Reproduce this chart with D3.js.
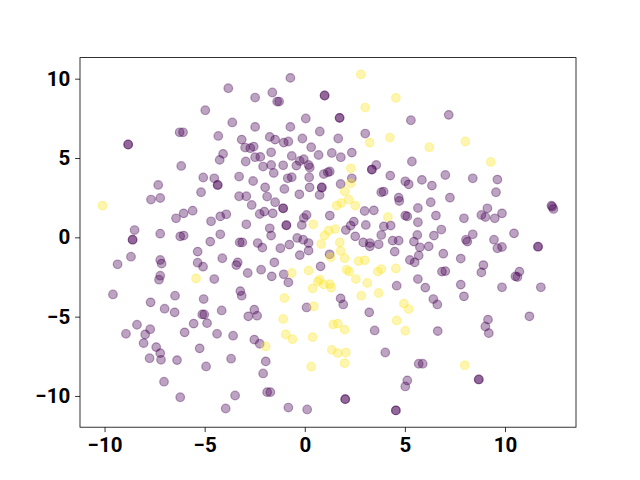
<!DOCTYPE html>
<head>
<meta charset="utf-8">
<style>
body { margin: 0; background: #fff; }
.tick text { font-family: Roboto, sans-serif; font-weight: bold; font-size: 20.5px; fill: #000; }
.domain, .tick line { stroke: #000; stroke-width: 0.8px; }
</style>
</head>
<body>
<script src="https://d3js.org/d3.v7.min.js"></script>
<script>
var purplePts = [
[-4.97,8.01],[-6.25,6.62],[-6.08,6.62],[-8.82,5.85],[-8.82,5.85],[-6.17,4.50],[-5.07,3.77],[-7.32,3.30],
[-0.72,10.05],[-3.82,9.40],[-1.62,9.13],[-2.48,8.81],[-1.38,8.56],[-1.28,8.56],[0.99,8.94],[0.99,8.94],
[-3.62,7.24],[-2.48,6.96],[-0.72,6.96],[0.05,7.49],[0.75,6.67],[-4.32,6.39],[-3.15,6.16],[-1.75,6.33],[-1.48,6.16],[-1.05,5.97],[-0.82,6.04],[-0.12,6.23],[0.32,5.68],
[-2.98,5.66],[-2.72,5.62],[-2.55,5.72],[-4.08,5.26],[-4.25,4.88],[-1.68,5.36],[-2.48,5.05],[-2.22,5.07],[-0.65,5.13],[0.69,5.19],
[-2.95,4.78],[-2.08,4.46],[-1.68,4.56],[-1.08,4.54],[-0.42,4.52],[-0.25,4.81],[-0.05,4.92],[0.19,4.56],[0.25,4.40],
[-1.55,4.06],[0.95,3.99],[1.15,4.10],[-3.28,3.83],[-4.52,3.72],[-2.58,3.55],[-0.85,3.72],[-0.65,3.79],[0.22,3.79],
[1.74,7.53],[1.74,7.53],[5.30,7.38],[7.19,7.72],[1.67,6.23],[3.02,6.54],[1.35,5.32],[1.80,5.05],[2.35,5.34],
[3.35,4.27],[3.35,4.27],[3.57,4.56],[5.35,4.78],[1.25,4.15],[2.35,3.72],[4.27,3.89],[5.02,3.53],[5.19,3.34],[5.85,3.62],[6.35,3.26],[7.02,3.93],[8.39,3.72],[9.62,3.64],
[-7.68,2.38],[-7.22,2.48],[-5.18,2.84],[-6.43,1.20],[-6.05,1.51],[-5.60,1.68],[-8.50,0.46],[-8.60,-0.15],[-8.60,-0.15],[-7.22,0.23],[-6.22,0.06],[-6.05,0.11],
[-5.35,-0.90],[-8.68,-1.22],[-9.35,-1.70],[-7.22,-1.43],[-7.15,-1.66],[-5.35,-1.60],[-5.08,-1.85],[-7.22,-2.42],[-7.28,-2.67],[-9.58,-3.60],[-6.48,-3.68],[-7.70,-4.10],[-5.05,-3.89],
[-4.35,3.30],[-4.35,3.30],[-1.98,3.15],[-1.02,3.05],[0.24,3.15],[0.85,3.14],[0.85,3.14],[0.74,2.67],[-3.28,2.59],[-2.92,2.59],[-1.88,2.57],[-1.48,2.21],[-2.65,2.04],[-1.08,1.83],[-1.08,1.83],[-0.27,2.71],
[-2.25,1.47],[-2.02,1.62],[-1.60,1.51],[-4.68,1.01],[-4.22,1.32],[-3.92,1.45],[-2.92,0.82],[-0.92,0.76],[-0.92,0.76],[-0.15,0.78],[-0.05,1.22],[0.09,1.41],
[-1.75,0.57],[-1.68,0.11],[-0.38,-0.04],[-0.08,-0.15],[0.19,-0.36],[-4.22,0.19],[-4.72,-0.27],[-3.25,-0.32],[-3.12,-0.32],[-2.35,-0.36],[-2.12,-0.65],[-1.22,-0.69],[-0.77,-0.46],[-0.25,-1.12],[0.19,-0.84],
[-4.12,-1.32],[-3.35,-1.58],[-3.42,-1.75],[-1.52,-1.58],[0.79,-1.83],[-2.85,-2.25],[-2.18,-2.04],[-1.65,-2.46],[-1.05,-2.33],[-0.82,-2.84],[-4.52,-2.63],[-3.22,-3.39],[-3.15,-3.68],
[1.79,3.36],[3.82,2.84],[3.94,2.88],[4.69,2.50],[4.72,2.29],[7.25,2.50],[2.99,1.66],[3.45,1.70],[5.02,1.37],[5.12,1.32],[5.65,1.85],[6.29,2.21],[6.55,1.37],[1.25,1.37],
[2.45,0.99],[2.29,0.74],[2.05,0.46],[3.05,0.78],[3.95,0.69],[4.29,0.74],[5.65,0.95],[6.82,0.49],[6.45,0.11],[2.52,0.06],[3.82,0.15],[5.62,0.15],
[2.92,-0.32],[3.25,-0.36],[3.25,-0.57],[3.69,-0.44],[4.39,-0.21],[4.69,-0.21],[5.45,-0.27],[6.19,-0.57],[1.24,-1.07],[4.49,-0.90],[5.75,-0.63],[5.69,-1.15],[6.92,-1.03],
[5.25,-1.43],[5.49,-1.58],[6.85,-2.16],[7.02,-2.13],[5.65,-2.63],[4.59,-3.05],[6.02,-3.17],[1.79,-3.85],[1.92,-4.23],[6.42,-3.89],[6.62,-4.23],
[9.55,2.84],[12.32,2.0],[12.42,1.79],[12.36,1.93],[9.12,1.83],[8.82,1.41],[9.02,1.28],[9.49,1.20],[9.85,1.51],[7.95,1.20],[10.45,0.25],[8.39,0.19],[8.05,-0.15],[8.12,-0.27],[9.45,-0.15],[9.62,-0.69],[9.85,-0.61],[11.65,-0.59],[11.65,-0.59],
[7.79,-1.34],[8.92,-1.75],[8.82,-2.21],[10.72,-2.16],[10.52,-2.46],[10.62,-2.50],[7.79,-2.98],[7.95,-3.72],[9.85,-3.15],[11.79,-3.15],
[-7.0,-4.50],[-6.5,-4.73],[-5.12,-4.86],[-5.02,-4.86],[-8.38,-5.51],[-8.93,-6.08],[-7.97,-6.12],[-7.72,-5.79],[-8.05,-6.67],[-5.55,-5.44],[-6.0,-5.99],[-4.88,-5.41],[-7.42,-6.92],[-7.22,-7.30],[-7.75,-7.62],[-7.18,-7.72],[-6.38,-7.74],[-5.25,-7.0],[-4.93,-8.14],[-7.03,-9.10],[-6.22,-10.08],
[-4.15,-4.61],[-2.82,-4.98],[-2.52,-4.56],[-2.38,-4.94],[0.09,-4.42],[-4.38,-6.08],[-3.58,-6.20],[-2.52,-6.45],[-2.25,-6.71],[-3.68,-7.65],[-1.95,-7.82],[-2.08,-8.58],[-1.88,-9.76],[-1.72,-9.76],[-3.48,-9.97],[-3.95,-10.79],[-0.82,-10.73],[0.12,-10.85],
[3.22,-4.73],[3.49,-5.87],[6.64,-5.91],[4.02,-7.26],[5.69,-7.97],[5.89,-7.97],[5.12,-9.02],[5.02,-9.40],[2.02,-10.2],[2.02,-10.2],[4.55,-10.91],[4.55,-10.91],[9.15,-5.19],[9.02,-5.62],[9.19,-6.04],[11.22,-4.98],[8.69,-8.96],[8.69,-8.96]
];

var yellowPts = [
[2.80,10.27],[4.55,8.79],[3.02,8.18],[3.24,5.97],[4.25,6.29],[6.22,5.68],[2.30,4.35],[8.02,6.04],[9.29,4.75],[-10.1,2.0],[-5.43,-2.59],
[0.42,0.82],[0.99,0.11],[0.82,-0.42],[-0.65,-2.25],[0.19,-2.10],[0.75,-2.67],[0.65,-2.79],[0.95,-2.97],[0.39,-3.22],[-1.02,-3.83],[0.45,-4.35],
[2.29,3.41],[1.99,2.90],[1.59,2.0],[1.82,2.16],[2.19,2.38],[2.52,2.0],[4.15,1.28],[1.52,0.52],[1.19,0.42],[1.75,-0.32],[1.79,-0.86],[1.29,-1.26],[1.99,-1.32],[2.69,-1.50],[2.99,-1.45],[4.55,-1.96],[2.09,-2.04],[2.22,-2.16],[3.82,-2.0],[3.65,-2.16],[2.55,-2.63],[3.12,-2.88],[1.25,-2.95],[1.32,-3.17],[3.69,-3.51],[2.82,-3.68],[4.95,-4.18],[5.19,-4.52],
[-1.08,-5.15],[-0.95,-6.12],[-0.62,-6.42],[0.39,-6.29],[-1.95,-6.88],[1.35,-7.09],[0.32,-8.16],[1.42,-5.49],[1.65,-5.44],[1.99,-5.82],[4.59,-5.24],[5.02,-5.89],[1.65,-7.30],[2.05,-7.26],[1.99,-7.93],[7.99,-8.06]
];

var xTicks = [-10, -5, 0, 5, 10];
var yTicks = [-10, -5, 0, 5, 10];

var width = 640, height = 480;
var margin = {left: 80, right: 64, top: 57.6, bottom: 52.8};

var svg = d3.select("body").append("svg")
  .attr("width", width)
  .attr("height", height);

var all = purplePts.concat(yellowPts);
var xExt = d3.extent(all, function(d) { return d[0]; });
var yExt = d3.extent(all, function(d) { return d[1]; });
var xPad = (xExt[1] - xExt[0]) * 0.05;
var yPad = (yExt[1] - yExt[0]) * 0.05;

var x = d3.scaleLinear()
  .domain([xExt[0] - xPad, xExt[1] + xPad])
  .range([margin.left, width - margin.right]);
var y = d3.scaleLinear()
  .domain([yExt[0] - yPad, yExt[1] + yPad])
  .range([height - margin.bottom, margin.top]);

var fmt = function(d) { return d < 0 ? "\u2212" + Math.abs(d) : "" + d; };

function drawPts(pts, color) {
  svg.append("g").selectAll("circle")
    .data(pts)
    .enter().append("circle")
    .attr("cx", function(d) { return x(d[0]); })
    .attr("cy", function(d) { return y(d[1]); })
    .attr("r", 4.3)
    .attr("fill", color)
    .attr("fill-opacity", 0.36)
    .attr("stroke", color)
    .attr("stroke-opacity", 0.36)
    .attr("stroke-width", 1.2);
}

drawPts(purplePts, "#440154");
drawPts(yellowPts, "#fde725");

// frame
svg.append("rect")
  .attr("x", margin.left)
  .attr("y", margin.top)
  .attr("width", width - margin.left - margin.right)
  .attr("height", height - margin.top - margin.bottom)
  .attr("fill", "none")
  .attr("stroke", "#000")
  .attr("stroke-width", 0.8);

svg.append("g")
  .attr("transform", "translate(0," + (height - margin.bottom) + ")")
  .call(d3.axisBottom(x).tickValues(xTicks).tickFormat(fmt).tickSize(4.9).tickPadding(4.9))
  .call(function(g) { g.select(".domain").remove(); });

svg.append("g")
  .attr("transform", "translate(" + margin.left + ",0)")
  .call(d3.axisLeft(y).tickValues(yTicks).tickFormat(fmt).tickSize(4.9).tickPadding(4.9))
  .call(function(g) { g.select(".domain").remove(); });
</script>
</body>
